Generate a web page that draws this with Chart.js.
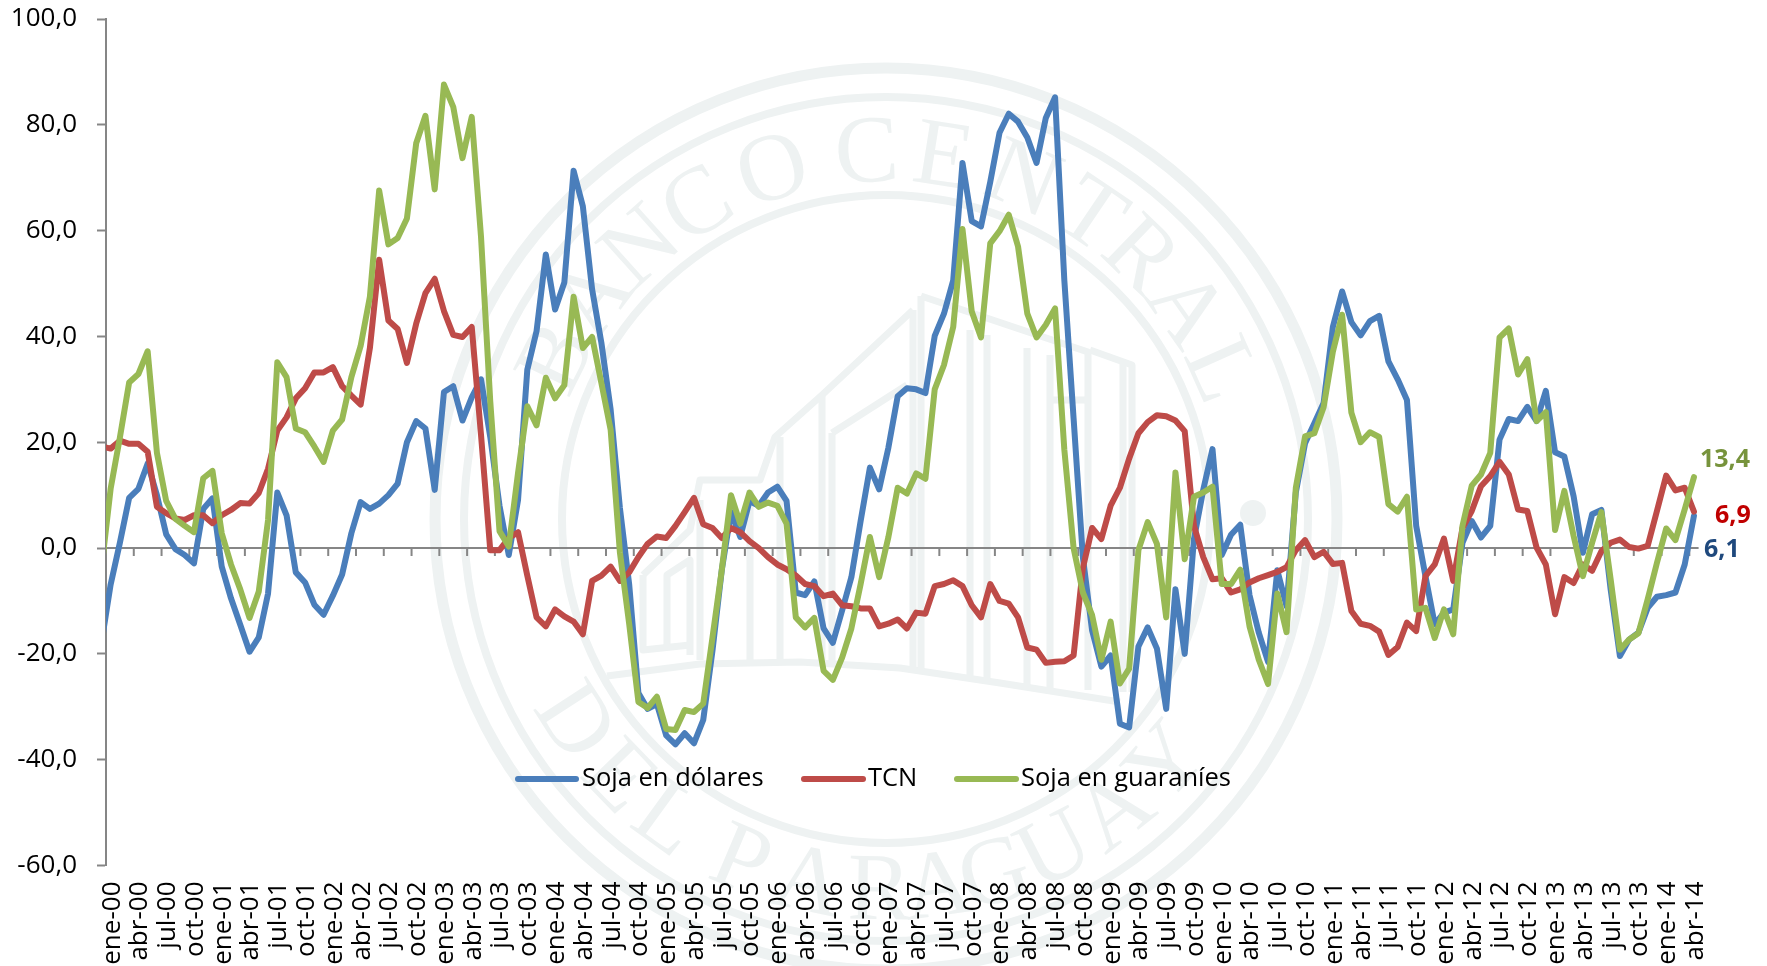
<!DOCTYPE html>
<html lang="es">
<head>
<meta charset="utf-8">
<title>Soja y TCN</title>
<style>html,body{margin:0;padding:0;background:#fff}canvas{display:block}</style>
<script src="https://cdn.jsdelivr.net/npm/chart.js@4"></script>
</head>
<body>
<canvas id="c" width="1767" height="966"></canvas>
<script>
const monthNames = ['ene','feb','mar','abr','may','jun','jul','ago','sep','oct','nov','dic'];
const years = ['00','01','02','03','04','05','06','07','08','09','10','11','12','13','14'];
const categories = [];
years.forEach(y => monthNames.forEach(m => categories.push(m + '-' + y)));
categories.length = 172;

const yTicks = [-60,-40,-20,0,20,40,60,80,100];

const sojaDolares = [
-6.9,1,9.5,11.2,16,10,2.6,-0.2,-1.3,-2.9,7.4,9.4,
-3.5,-9.5,-14.5,-19.6,-16.9,-8.6,10.5,6.2,-4.6,-6.5,-10.7,-12.6,
-9,-5,2.8,8.7,7.4,8.4,10,12.2,20,24,22.6,11,
29.5,30.6,24.1,28.5,31.9,21,8,-1.3,9.1,33.7,41,55.5,
45.1,50.2,71.3,64.6,48.9,38.8,26.2,7.6,-6.8,-27.4,-30.4,-29.5,
-35.4,-37.1,-35,-36.9,-32.5,-19.4,-4.2,6.8,2.1,8.9,8,10.5,
11.6,8.9,-8.4,-8.9,-6.3,-15.2,-17.9,-11.8,-5.5,5.1,15.2,11.1,
19,28.7,30.2,30,29.3,40.1,44.3,50.6,72.8,61.8,60.8,69.2,
78.5,82.1,80.6,77.6,72.8,81.3,85.2,50.6,24.5,-1.7,-15.6,-22.4,
-20.3,-33.2,-33.9,-18.6,-15,-19,-30.4,-7.8,-20,1.7,11,18.7,
-1.3,2.5,4.4,-8.9,-16,-21.5,-4.2,-11,10.5,19.8,23.6,27.4,
41.8,48.5,42.7,40.2,42.9,43.9,35.3,31.9,28,4.2,-5.3,-14.4,
-12.2,-11.6,1,5.1,2,4.2,20.5,24.4,24,26.7,24,29.7,
18.1,17.3,9.8,-0.9,6.4,7.2,-7.8,-20.4,-17.3,-16,-11.3,-9.2,
-8.9,-8.4,-3.1,6.1];

const tcn = [
18.8,20.3,19.7,19.7,18.2,7.8,6.6,5.6,5.3,6.2,6.2,4.7,
6.2,7.2,8.5,8.4,10.4,15,22.2,24.7,28.3,30.2,33.2,33.2,
34.2,30.6,28.8,27.1,37.8,54.5,43,41.4,35,42.4,48.2,50.9,
44.8,40.3,39.9,41.8,21.4,-0.4,-0.4,1.9,3,-5.2,-13.1,-14.8,
-11.6,-12.9,-13.9,-16.3,-6.2,-5.2,-3.5,-6.2,-4.6,-1.7,0.8,2.2,
1.9,4.2,6.8,9.5,4.5,3.8,1.9,3.8,3,1.3,0,-1.7,
-3.1,-4,-5.2,-6.8,-7.2,-9.1,-8.6,-10.8,-11,-11.4,-11.4,-14.8,
-14.3,-13.5,-15.2,-12.2,-12.4,-7.2,-6.8,-6.1,-7.2,-10.8,-13.1,-6.8,
-10,-10.5,-13.1,-18.8,-19.2,-21.7,-21.5,-21.4,-20.3,-3.8,3.8,1.7,
8,11.4,16.9,21.7,23.8,25.1,24.9,24.1,22.1,4.2,-1.7,-5.9,
-5.7,-8.4,-7.8,-6.5,-5.7,-5.1,-4.5,-3.6,-0.4,1.5,-1.7,-0.7,
-3,-2.8,-11.9,-14.3,-14.7,-15.8,-20.2,-18.7,-14.1,-15.7,-5.3,-3.1,
1.8,-6.2,3.8,7,11.7,13.6,16.3,13.9,7.3,7,0.1,-3.1,
-12.5,-5.5,-6.6,-3.1,-4.3,-0.6,1,1.6,0.2,-0.1,0.4,7,
13.7,10.9,11.4,6.9];

const sojaGuaranies = [
11.2,20.9,31.3,32.9,37.2,18,8.9,5.5,4.2,3,13.2,14.6,
2.8,-3.1,-7.8,-13.2,-8.2,5.3,35.1,32.3,22.6,21.9,19.2,16.3,
22.2,24.3,32.3,38.2,47.5,67.6,57.4,58.6,62.3,76.5,81.7,67.8,
87.6,83.4,73.7,81.5,58.9,27.7,3.2,0.3,14.2,26.8,23.2,32.2,
28.3,30.8,47.5,37.8,39.9,31.2,22.4,-0.8,-14.3,-29.1,-30.2,-28.1,
-34.2,-34.4,-30.6,-31,-29.4,-16.9,-4.2,10,4.6,10.5,7.8,8.6,
8,4.6,-13.1,-15,-13.2,-23.2,-24.9,-20.7,-15.2,-6.8,2.1,-5.5,
2.1,11.4,10.3,14.1,13.1,30,34.6,41.8,60.3,44.7,39.8,57.6,
59.9,63,57,44.3,39.8,42.2,45.3,18.6,0,-8.4,-12.7,-21.1,
-13.9,-25.6,-22.8,-0.4,4.9,0.8,-13.1,14.3,-2.1,9.7,10.5,11.6,
-6.8,-6.8,-4.1,-14.8,-21.1,-25.7,-8.6,-15.9,11.4,21.1,21.7,26.6,
37.1,44.1,25.6,20,21.9,21,8.3,6.9,9.7,-11.6,-11.3,-17,
-11.6,-16.3,4.2,11.8,13.9,18,39.8,41.5,32.8,35.7,24,25.7,
3.4,10.8,2.3,-5.3,1,6.8,-5.9,-19.2,-17.3,-16.1,-9.7,-2.8,
3.7,1.5,7.3,13.4];

// value of the month before the first label; the line enters the plot from it
const priorDolares = -18, priorTcn = 19.2, priorGuaranies = -4;

const FONT = '"Open Sans"';
const fmt = v => v.toFixed(1).replace('.', ',');
const series = (prior, arr) => [{x:-1,y:prior}].concat(arr.map((y,i)=>({x:i,y})));

const AXIS = '#868686', WM = '#EEF2F2';

function arcText(ctx, letters, cx, cy, r, bottom) {
  letters.forEach(([ch, deg]) => {
    const a = deg * Math.PI / 180;
    ctx.save();
    if (!bottom) {
      ctx.translate(cx + r * Math.sin(a), cy - r * Math.cos(a));
      ctx.rotate(a);
    } else {
      ctx.translate(cx + r * Math.sin(a), cy + r * Math.cos(a));
      ctx.rotate(-a);
    }
    ctx.fillText(ch, 0, 0);
    ctx.restore();
  });
}

const watermark = {
  id: 'watermark',
  beforeDraw(chart) {
    const ctx = chart.ctx, cx = 886, cy = 519;
    ctx.save();
    ctx.strokeStyle = WM; ctx.fillStyle = WM;
    [[451,11],[422,8],[324,8]].forEach(([r,w]) => {
      ctx.lineWidth = w; ctx.beginPath(); ctx.arc(cx, cy, r, 0, Math.PI*2); ctx.stroke();
    });
    ctx.font = '96px "Liberation Serif"';
    ctx.textAlign = 'center'; ctx.textBaseline = 'alphabetic';
    arcText(ctx, [['B',-64],['A',-53],['N',-42],['C',-31],['O',-18],['C',-3],['E',9],['N',22],['T',34],['R',44],['A',55],['L',66]], cx, cy, 338, false);
    arcText(ctx, [['D',-57],['E',-46],['L',-36],['P',-23],['A',-12],['R',-1],['A',8],['G',17],['U',27],['A',38],['Y',49]], cx, cy, 400, true);
    ctx.beginPath(); ctx.arc(1253, 513, 13, 0, Math.PI*2); ctx.fill();
    ctx.lineWidth = 7; ctx.lineJoin = 'round';
    const paths = [
      [[607,676],[700,664],[800,662],[900,668],[1000,683],[1120,702]],
      [[643,575],[690,530],[700,480],[760,480],[775,437],[822,395],[913,310]],
      [[832,433],[907,385]],[[921,296],[1088,352],[1088,690]],
      [[913,310],[913,672]],[[921,296],[921,672]],
      [[822,395],[822,665]],[[832,433],[832,665]],[[780,437],[780,665]],
      [[667,650],[667,575],[690,560],[690,655]],[[643,575],[643,650],[690,645]],
      [[700,500],[700,660]],[[750,490],[750,660]],
      [[970,330],[970,680]],[[987,335],[987,682]],[[1027,348],[1027,686]],[[1050,355],[1050,688]],
      [[1090,350],[1132,365],[1132,692]],[[1123,362],[1123,692]],[[1050,400],[1090,400]]
    ];
    paths.forEach(p => {
      ctx.beginPath();
      p.forEach((q,i) => i ? ctx.lineTo(q[0],q[1]) : ctx.moveTo(q[0],q[1]));
      ctx.stroke();
    });
    ctx.restore();
  }
};

const zeroAxis = {
  id: 'zeroAxis',
  beforeDatasetsDraw(chart) {
    const {ctx, scales:{x,y}} = chart, y0 = y.getPixelForValue(0);
    ctx.save();
    ctx.strokeStyle = AXIS; ctx.lineWidth = 2;
    ctx.beginPath(); ctx.moveTo(x.left, y0); ctx.lineTo(x.right, y0);
    for (let i = 0; i <= categories.length; i += 3) {
      const p = x.getPixelForValue(i - 0.5);
      ctx.moveTo(p, y0); ctx.lineTo(p, y0 + 8);
    }
    ctx.stroke();
    ctx.restore();
  }
};

const endLabels = {
  id: 'endLabels',
  afterDatasetsDraw(chart) {
    const {ctx, scales:{x,y}} = chart, last = categories.length - 1, xp = x.getPixelForValue(last);
    ctx.save();
    ctx.font = 'bold 25px ' + FONT; ctx.textAlign = 'left'; ctx.textBaseline = 'middle';
    [[sojaGuaranies,'#77933C',6,-17],[tcn,'#C00000',21,4],[sojaDolares,'#1F497D',10,34]].forEach(([s,c,dx,dy]) => {
      ctx.fillStyle = c;
      ctx.fillText(fmt(s[last]), xp + dx, y.getPixelForValue(s[last]) + dy);
    });
    ctx.restore();
  }
};

const legendRow = {
  id: 'legendRow',
  afterDatasetsDraw(chart) {
    const ctx = chart.ctx, yy = 779;
    const place = [[518,576,582],[804,863,868],[957,1016,1021]];
    ctx.save();
    ctx.font = '25.5px ' + FONT; ctx.textAlign = 'left'; ctx.textBaseline = 'middle'; ctx.lineCap = 'round';
    chart.data.datasets.forEach((ds,i) => {
      const [a,b,t] = place[i];
      ctx.strokeStyle = ds.borderColor; ctx.lineWidth = 6;
      ctx.beginPath(); ctx.moveTo(a,yy); ctx.lineTo(b,yy); ctx.stroke();
      ctx.fillStyle = '#000'; ctx.fillText(ds.label, t, yy);
    });
    ctx.restore();
  }
};

const line = (label, color, data, order) => ({
  label, data, order, borderColor: color, backgroundColor: color, borderWidth: 6,
  pointRadius: 0, tension: 0, borderJoinStyle: 'round', borderCapStyle: 'round',
  clip: {left:0, top:false, right:false, bottom:false}
});

new Chart(document.getElementById('c'), {
  type: 'line',
  data: { datasets: [
    line('Soja en dólares', '#4A7EBB', series(priorDolares, sojaDolares), 3),
    line('TCN', '#BE4B48', series(priorTcn, tcn), 2),
    line('Soja en guaraníes', '#98B954', series(priorGuaranies, sojaGuaranies), 1)
  ]},
  options: {
    responsive: false, animation: false, devicePixelRatio: 1,
    layout: { padding: { top: 19, right: 68.4, left: 0, bottom: 0 } },
    plugins: { legend: {display:false}, title:{display:false}, tooltip:{enabled:false} },
    scales: {
      x: {
        type: 'linear', min: -0.5, max: 171.5,
        afterBuildTicks: s => { s.ticks = categories.map((c,i)=>i).filter(i=>i%3===0).map(v=>({value:v})); },
        afterFit: s => { s.height = 100.5; },
        border: {display:false}, grid: {display:false},
        ticks: { autoSkip:false, minRotation:90, maxRotation:90, padding:8, labelOffset:1.5, color:'#000',
                 font:{family:FONT,size:26}, callback: v => categories[v] }
      },
      y: {
        type: 'linear', min: yTicks[0], max: yTicks[yTicks.length-1],
        afterBuildTicks: s => { s.ticks = yTicks.map(v=>({value:v})); },
        afterFit: s => { s.width = 106; s.paddingTop = 0; s.paddingBottom = 0; },
        border: {display:true, color:AXIS, width:2},
        grid: {drawOnChartArea:false, drawTicks:true, tickLength:9, tickColor:AXIS, tickWidth:2},
        ticks: { padding:20, color:'#000', font:{family:FONT,size:26}, callback: fmt }
      }
    }
  },
  plugins: [watermark, zeroAxis, endLabels, legendRow]
});
</script>
</body>
</html>
